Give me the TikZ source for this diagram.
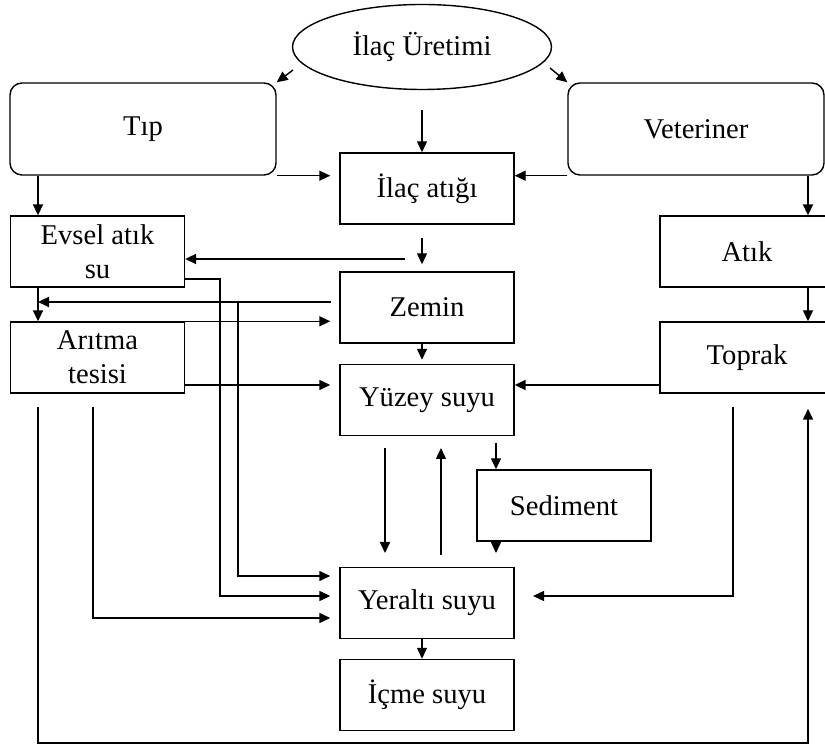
\documentclass[tikz,border=0pt]{standalone}
\usepackage{fontspec}
\setmainfont{Liberation Serif}
\usetikzlibrary{arrows.meta,shapes.geometric}

\tikzset{
  box/.style={draw, line width=0.7pt, minimum width=87pt, minimum height=35.5pt,
    inner sep=2pt, align=center, font=\fontsize{14.3}{17}\selectfont},
  cornerbox/.style={box, rounded corners=6pt, minimum height=46pt},
  oval/.style={box, ellipse, minimum width=129.5pt, minimum height=42.5pt, inner sep=0pt},
  arr/.style={-{Triangle[length=5.5pt,width=5pt]}, line width=0.7pt},
  thk/.style={line width=1pt},
  gap/.style={shorten >=4.5pt},
}

\begin{document}
\begin{tikzpicture}[x=0.5pt, y=-0.5pt]
  \useasboundingbox (0,0) rectangle (825,747);

  % sources
  \node[oval] (uretim) at (422,47) {İlaç Üretimi};
  \node[cornerbox, minimum width=133pt] (tip) at (143,129) {Tıp};
  \node[cornerbox, minimum width=128pt] (veteriner) at (696,129) {Veteriner};

  % middle column
  \node[box] (ilac) at (427,188.5) {İlaç atığı};
  \node[box] (zemin) at (427,307.5) {Zemin};
  \node[box] (yuzey) at (427,400) {Yüzey suyu};
  \node[box] (sediment) at (564,505.5) {Sediment};
  \node[box] (yeralti) at (427,603) {Yeraltı suyu};
  \node[box] (icme) at (427,695) {İçme suyu};

  % left and right columns
  \node[box] (evsel) at (97.5,251.5) {Evsel atık\\su};
  \node[box] (aritma) at (97.5,357.5) {Arıtma\\tesisi};
  \node[box] (hatik) at (747,251.5) {Atık};
  \node[box] (toprak) at (747,357.5) {Toprak};

  \coordinate (lx) at (38,0);
  \coordinate (mx) at (422,0);
  \coordinate (rx) at (808,0);
  \coordinate (ul) at (293,70);
  \coordinate (ur) at (550,68);
  \coordinate (ilactop) at (422,110);
  \coordinate (zbranch) at (405,259);
  \coordinate (zleft) at (331,302);

  % production
  \draw[arr] (ul) -- (tip.north east);
  \draw[arr] (ur) -- (veteriner.north west);
  \draw[arr] (ilactop) -- (ilactop |- ilac.north);
  \draw[arr,gap] (tip.south east) -- (tip.south east -| ilac.west);
  \draw[arr] (veteriner.south west) -- (veteriner.south west -| ilac.east);
  \draw[arr,thk] (lx |- tip.south) -- (lx |- evsel.north);
  \draw[arr,thk] (rx |- veteriner.south) -- (rx |- hatik.north);

  % waste and soil
  \draw[arr,shorten <=6.5pt,shorten >=3.5pt] (mx |- ilac.south) -- (mx |- zemin.north);
  \draw[arr,thk] (zbranch) -- (zbranch -| evsel.east);
  \draw[arr,thk] (zleft) -- (zleft -| lx);
  \draw[arr,thk] (lx |- evsel.south) -- (lx |- aritma.north);
  \draw[arr,gap] (aritma.north east) -- (aritma.north east -| zemin.west);
  \draw[arr,gap] (aritma.east |- 0,385) -- (yuzey.west |- 0,385);
  \draw[arr,shorten >=2pt] (mx |- zemin.south) -- (mx |- yuzey.north);
  \draw[arr] (rx |- hatik.south) -- (rx |- toprak.north);
  \draw[arr,thk] (toprak.west |- 0,385) -- (yuzey.east |- 0,385);

  % groundwater
  \draw[arr,gap] (evsel.east |- 0,279) -| (220,596) -- (yeralti.west |- 0,596);
  \draw[arr,gap] (238,302) -- (238,576) -- (yeralti.west |- 0,576);
  \draw[arr,gap] (93,407) -- (93,618) -- (yeralti.west |- 0,618);
  \draw[arr,shorten >=7.5pt] (lx |- 0,407) |- (rx |- 0,743) -- (rx |- toprak.south);
  \draw[arr] (733,407) |- (533,596);
  \draw[arr,thk] (385,448) -- (385,553);
  \draw[arr] (441,555) -- (441,448);
  \draw[arr] (496,443) -- (496,443 |- sediment.north);
  \draw[arr] (496,541) -- (496,553);
  \draw[arr] (mx |- yeralti.south) -- (mx |- icme.north);
\end{tikzpicture}
\end{document}
